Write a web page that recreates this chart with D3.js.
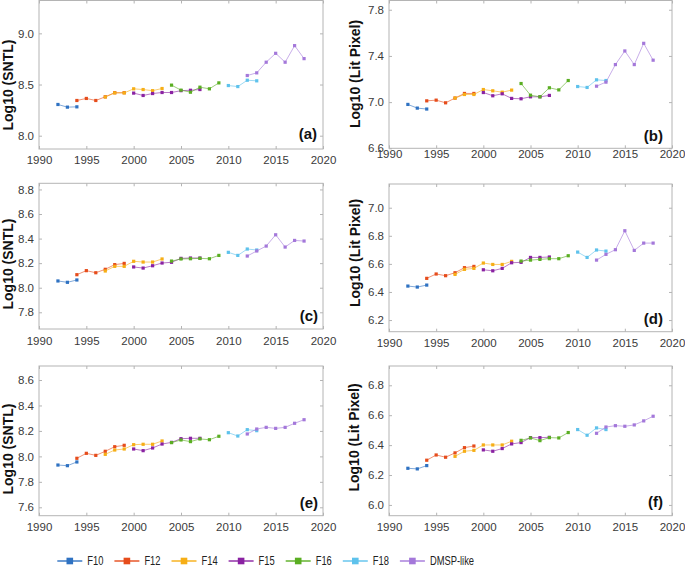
<!DOCTYPE html>
<html><head><meta charset="utf-8">
<script src="https://cdn.jsdelivr.net/npm/d3@7"></script>
<style>
body{margin:0;background:#fff;}
svg{display:block;font-family:Arial,"Liberation Sans",sans-serif;}
</style></head>
<body><svg id="chart" width="685" height="567"></svg>
<script>
const seriesNames = ["F10","F12","F14","F15","F16","F18","DMSP-like"];
const seriesColors = ["#2f72c2","#e64c1b","#f6ae16","#8a22a2","#5aae22","#5ec2ec","#a478da"];
const yearsF10 = [1992,1993,1994];
const yearsF12 = [1994,1995,1996,1997,1998,1999];
const yearsF14 = [1997,1998,1999,2000,2001,2002,2003];
const yearsF15 = [2000,2001,2002,2003,2004,2005,2006,2007];
const yearsF16 = [2004,2005,2006,2007,2008,2009];
const yearsF18 = [2010,2011,2012,2013];
const yearsDMSP = [2012,2013,2014,2015,2016,2017,2018];
const seriesYears = [yearsF10,yearsF12,yearsF14,yearsF15,yearsF16,yearsF18,yearsDMSP];

// (a) Log10(SNTL)
const valuesA = [
  [8.305,8.279,8.282],
  [8.344,8.364,8.344,8.380,8.420,8.420],
  [8.378,8.418,8.418,8.458,8.451,8.440,8.461],
  [8.416,8.393,8.412,8.422,8.422,8.440,8.444,8.451],
  [8.494,8.445,8.425,8.474,8.458,8.516],
  [8.490,8.480,8.542,8.536],
  [8.588,8.614,8.718,8.805,8.718,8.880,8.753]
];
// (b) Log10(Lit Pixel)
const valuesB = [
  [6.980,6.948,6.940],
  [7.011,7.017,6.994,7.035,7.075,7.075],
  [7.035,7.066,7.066,7.109,7.098,7.086,7.104],
  [7.083,7.055,7.072,7.032,7.029,7.046,7.046,7.058],
  [7.161,7.060,7.046,7.124,7.106,7.187],
  [7.135,7.127,7.193,7.187],
  [7.138,7.173,7.325,7.443,7.325,7.509,7.363]
];
// (c) Log10(SNTL)
const valuesC = [
  [8.055,8.044,8.063],
  [8.106,8.139,8.122,8.150,8.188,8.198],
  [8.136,8.174,8.174,8.215,8.209,8.209,8.234],
  [8.169,8.160,8.179,8.201,8.207,8.239,8.242,8.242],
  [8.217,8.234,8.236,8.239,8.236,8.263],
  [8.288,8.263,8.315,8.307],
  [8.258,8.299,8.339,8.431,8.331,8.385,8.380]
];
// (d) Log10(Lit Pixel)
const valuesD = [
  [6.442,6.435,6.449],
  [6.497,6.528,6.516,6.537,6.573,6.582],
  [6.525,6.561,6.568,6.606,6.596,6.596,6.618],
  [6.558,6.551,6.568,6.608,6.611,6.646,6.646,6.649],
  [6.620,6.627,6.632,6.637,6.637,6.658],
  [6.684,6.646,6.699,6.691],
  [6.627,6.668,6.701,6.836,6.696,6.748,6.748]
];
// (e) Log10(SNTL)
const valuesE = [
  [7.932,7.927,7.956],
  [7.985,8.024,8.008,8.040,8.076,8.087],
  [8.016,8.050,8.058,8.092,8.095,8.095,8.121],
  [8.058,8.045,8.066,8.097,8.110,8.139,8.142,8.142],
  [8.108,8.129,8.116,8.137,8.131,8.158],
  [8.186,8.160,8.210,8.202],
  [8.176,8.215,8.228,8.220,8.228,8.260,8.288]
];
// (f) Log10(Lit Pixel)
const valuesF = [
  [6.245,6.241,6.263],
  [6.299,6.334,6.319,6.348,6.383,6.394],
  [6.325,6.359,6.365,6.401,6.401,6.401,6.426],
  [6.368,6.359,6.377,6.408,6.417,6.450,6.450,6.452],
  [6.432,6.448,6.430,6.450,6.448,6.484],
  [6.504,6.466,6.515,6.504],
  [6.479,6.521,6.530,6.526,6.535,6.562,6.593]
];
const xTicks = [1990,1995,2000,2005,2010,2015,2020];
const yTicksA = [8.0,8.5,9.0];
const yTicksB = [6.6,7.0,7.4,7.8];
const yTicksC = [7.8,8.0,8.2,8.4,8.6,8.8];
const yTicksD = [6.2,6.4,6.6,6.8,7.0];
const yTicksE = [7.6,7.8,8.0,8.2,8.4,8.6];
const yTicksF = [6.0,6.2,6.4,6.6,6.8];
const yLabels = ["Log10 (SNTL)","Log10 (Lit Pixel)"];
const panelLetters = ["(a)","(b)","(c)","(d)","(e)","(f)"];

const panels = [
  {vals:valuesA, ticks:yTicksA, dom:[7.870,9.321], x0:39, x1:323, top:0.5, bot:149, lab:yLabels[0], labX:12.5, labY:85, xlabTop:156, letter:panelLetters[0], letX:317, letY:139},
  {vals:valuesB, ticks:yTicksB, dom:[6.6,7.88], x0:389, x1:672, top:0.5, bot:148.3, lab:yLabels[1], labX:360, labY:74, xlabTop:150.5, letter:panelLetters[1], letX:663, letY:141},
  {vals:valuesC, ticks:yTicksC, dom:[7.664,8.85], x0:39, x1:323, top:183.3, bot:329, lab:yLabels[0], labX:12.5, labY:264, xlabTop:337, letter:panelLetters[2], letX:318, letY:321},
  {vals:valuesD, ticks:yTicksD, dom:[6.117,7.169], x0:389, x1:672, top:184, bot:331.7, lab:yLabels[1], labX:360, labY:253, xlabTop:339, letter:panelLetters[3], letX:663, letY:323.5},
  {vals:valuesE, ticks:yTicksE, dom:[7.534,8.71], x0:39, x1:323, top:366, bot:515.7, lab:yLabels[0], labX:12.5, labY:449, xlabTop:523, letter:panelLetters[4], letX:318, letY:508},
  {vals:valuesF, ticks:yTicksF, dom:[5.928,6.929], x0:389, x1:672, top:366, bot:515.7, lab:yLabels[1], labX:359, labY:437.5, xlabTop:523, letter:panelLetters[5], letX:663, letY:507}
];

const svg = d3.select("#chart");
const boxColor = "#b4b4b4";
const textColor = "#3a3a3a";

panels.forEach(p => {
  const x = d3.scaleLinear().domain([1990,2020]).range([p.x0,p.x1]);
  const y = d3.scaleLinear().domain(p.dom).range([p.bot,p.top]);
  const g = svg.append("g");
  g.append("rect").attr("x",p.x0).attr("y",p.top).attr("width",p.x1-p.x0).attr("height",p.bot-p.top)
    .attr("fill","none").attr("stroke",boxColor).attr("stroke-width",1);
  const xb = g.append("g").attr("transform",`translate(0,${p.bot})`)
    .call(d3.axisBottom(x).tickValues(xTicks).tickFormat(d3.format("d")).tickSizeInner(-3).tickSizeOuter(0).tickPadding(0));
  xb.select(".domain").remove();
  xb.selectAll("line").attr("stroke",boxColor);
  xb.selectAll("text").attr("fill",textColor).attr("font-size",11.5).attr("dy",null)
    .attr("y",p.xlabTop-p.bot).attr("dominant-baseline","hanging");
  const xt = g.append("g").attr("transform",`translate(0,${p.top})`)
    .call(d3.axisTop(x).tickValues(xTicks).tickFormat("").tickSizeInner(-3).tickSizeOuter(0));
  xt.select(".domain").remove(); xt.selectAll("line").attr("stroke",boxColor);
  const yl = g.append("g").attr("transform",`translate(${p.x0},0)`)
    .call(d3.axisLeft(y).tickValues(p.ticks).tickFormat(d3.format(".1f")).tickSizeInner(-3).tickSizeOuter(0).tickPadding(0));
  yl.select(".domain").remove();
  yl.selectAll("line").attr("stroke",boxColor);
  yl.selectAll("text").attr("fill",textColor).attr("font-size",11.5).attr("x",-5);
  const yr = g.append("g").attr("transform",`translate(${p.x1},0)`)
    .call(d3.axisRight(y).tickValues(p.ticks).tickFormat("").tickSizeInner(-3).tickSizeOuter(0));
  yr.select(".domain").remove(); yr.selectAll("line").attr("stroke",boxColor);

  const line = d3.line().x(d=>x(d[0])).y(d=>y(d[1]));
  seriesNames.forEach((name,i) => {
    const pts = seriesYears[i].map((yr,j)=>[yr,p.vals[i][j]]);
    g.append("path").datum(pts).attr("d",line).attr("fill","none")
      .attr("stroke",seriesColors[i]).attr("stroke-opacity",0.6).attr("stroke-width",1);
    g.selectAll(null).data(pts).enter().append("rect")
      .attr("x",d=>x(d[0])-1.6).attr("y",d=>y(d[1])-1.6).attr("width",3.2).attr("height",3.2)
      .attr("fill",seriesColors[i]);
  });

  g.append("text").attr("transform",`translate(${p.labX},${p.labY}) rotate(-90)`)
    .attr("text-anchor","middle").attr("font-weight","bold").attr("font-size",14)
    .attr("fill","#111").text(p.lab);
  g.append("text").attr("x",p.letX).attr("y",p.letY).attr("text-anchor","end")
    .attr("font-weight","bold").attr("font-size",15).attr("fill","#111").text(p.letter);
});

// legend
const leg = svg.append("g");
seriesNames.forEach((name,i) => {
  const lx = 57.3 + 57.1*i, ly = 561;
  leg.append("line").attr("x1",lx).attr("x2",lx+25).attr("y1",ly).attr("y2",ly)
    .attr("stroke",seriesColors[i]).attr("stroke-opacity",0.7).attr("stroke-width",2);
  leg.append("rect").attr("x",lx+12.5-3.3).attr("y",ly-3.3).attr("width",6.6).attr("height",6.6)
    .attr("fill",seriesColors[i]);
  leg.append("g").attr("transform",`translate(${lx+30},${ly}) scale(0.78,1)`)
    .append("text").attr("x",0).attr("y",0).attr("dominant-baseline","central")
    .attr("font-size",12).attr("fill","#222").text(name);
});
</script></body></html>
